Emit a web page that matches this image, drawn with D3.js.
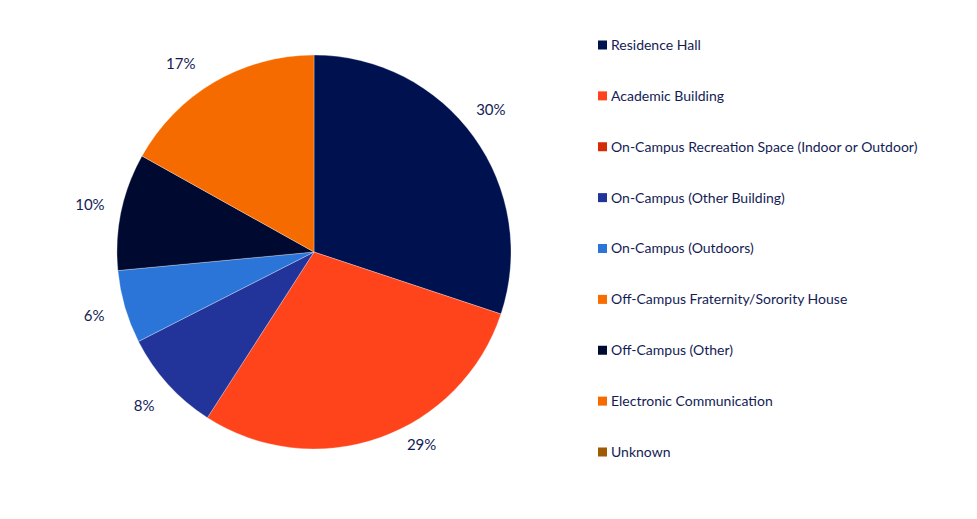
<!DOCTYPE html>
<html><head><meta charset="utf-8">
<script src="https://cdn.jsdelivr.net/npm/d3@7"></script>
<style>body{margin:0;background:#fff;}svg{display:block;font-family:Lato,"Open Sans",sans-serif;}</style>
</head><body>
<svg id="chart" width="977" height="519"></svg>
<script>
const categories = ["Residence Hall","Academic Building","On-Campus Recreation Space (Indoor or Outdoor)","On-Campus (Other Building)","On-Campus (Outdoors)","Off-Campus Fraternity/Sorority House","Off-Campus (Other)","Electronic Communication","Unknown"];
const values = [30.1, 29.0, 0, 8.4, 6.0, 0, 9.6, 16.9, 0];
const colors = ["#001150","#ff441b","#d42c06","#223399","#2b74d8","#f86c00","#000a30","#f66b00","#9e5a04"];

// label placement tweaks (layout only): angle shift in degrees, radius
const labelLayout = {
  "Residence Hall": {shift: -3, r: 227},
  "Academic Building": {shift: -9.7, r: 221},
  "Electronic Communication": {shift: -4.8, r: 231}
};

const svg = d3.select("#chart");
const cx = 314, cy = 252, R = 197, labelR = 229;
const textColor = "#141c55";
const data = categories.map((c,i)=>({cat:c,value:values[i],color:colors[i]}));
const pie = d3.pie().value(d=>d.value).sort(null);
const arcs = pie(data);
const arc = d3.arc().innerRadius(0).outerRadius(R);
const g = svg.append("g").attr("transform",`translate(${cx},${cy})`);
g.selectAll("path").data(arcs.filter(a=>a.data.value>0)).join("path")
  .attr("d",arc).attr("fill",d=>d.data.color).attr("stroke","#fff").attr("stroke-width",0.3);
function labelPos(d){
  const lay = labelLayout[d.data.cat] || {shift:0, r:labelR};
  const a = (d.startAngle + d.endAngle)/2 + lay.shift*Math.PI/180;
  return [Math.sin(a)*lay.r, -Math.cos(a)*lay.r];
}
g.selectAll("text").data(arcs.filter(a=>a.data.value>0)).join("text")
  .attr("transform",d=>`translate(${labelPos(d)})`)
  .attr("text-anchor","middle").attr("dy","0.35em")
  .attr("font-size",15).attr("fill",textColor)
  .text(d=>d3.format(".0f")(d.data.value)+"%");

const legY = d3.scalePoint().domain(categories).range([45,452]);
const leg = svg.append("g");
const items = leg.selectAll("g").data(data).join("g")
  .attr("transform",d=>`translate(598,${legY(d.cat)})`);
items.append("rect").attr("x",0).attr("y",-4.5).attr("width",9).attr("height",9).attr("fill",d=>d.color);
items.append("text").attr("x",13).attr("dy","0.35em").attr("font-size",14).attr("fill",textColor).text(d=>d.cat);
</script>
</body></html>
